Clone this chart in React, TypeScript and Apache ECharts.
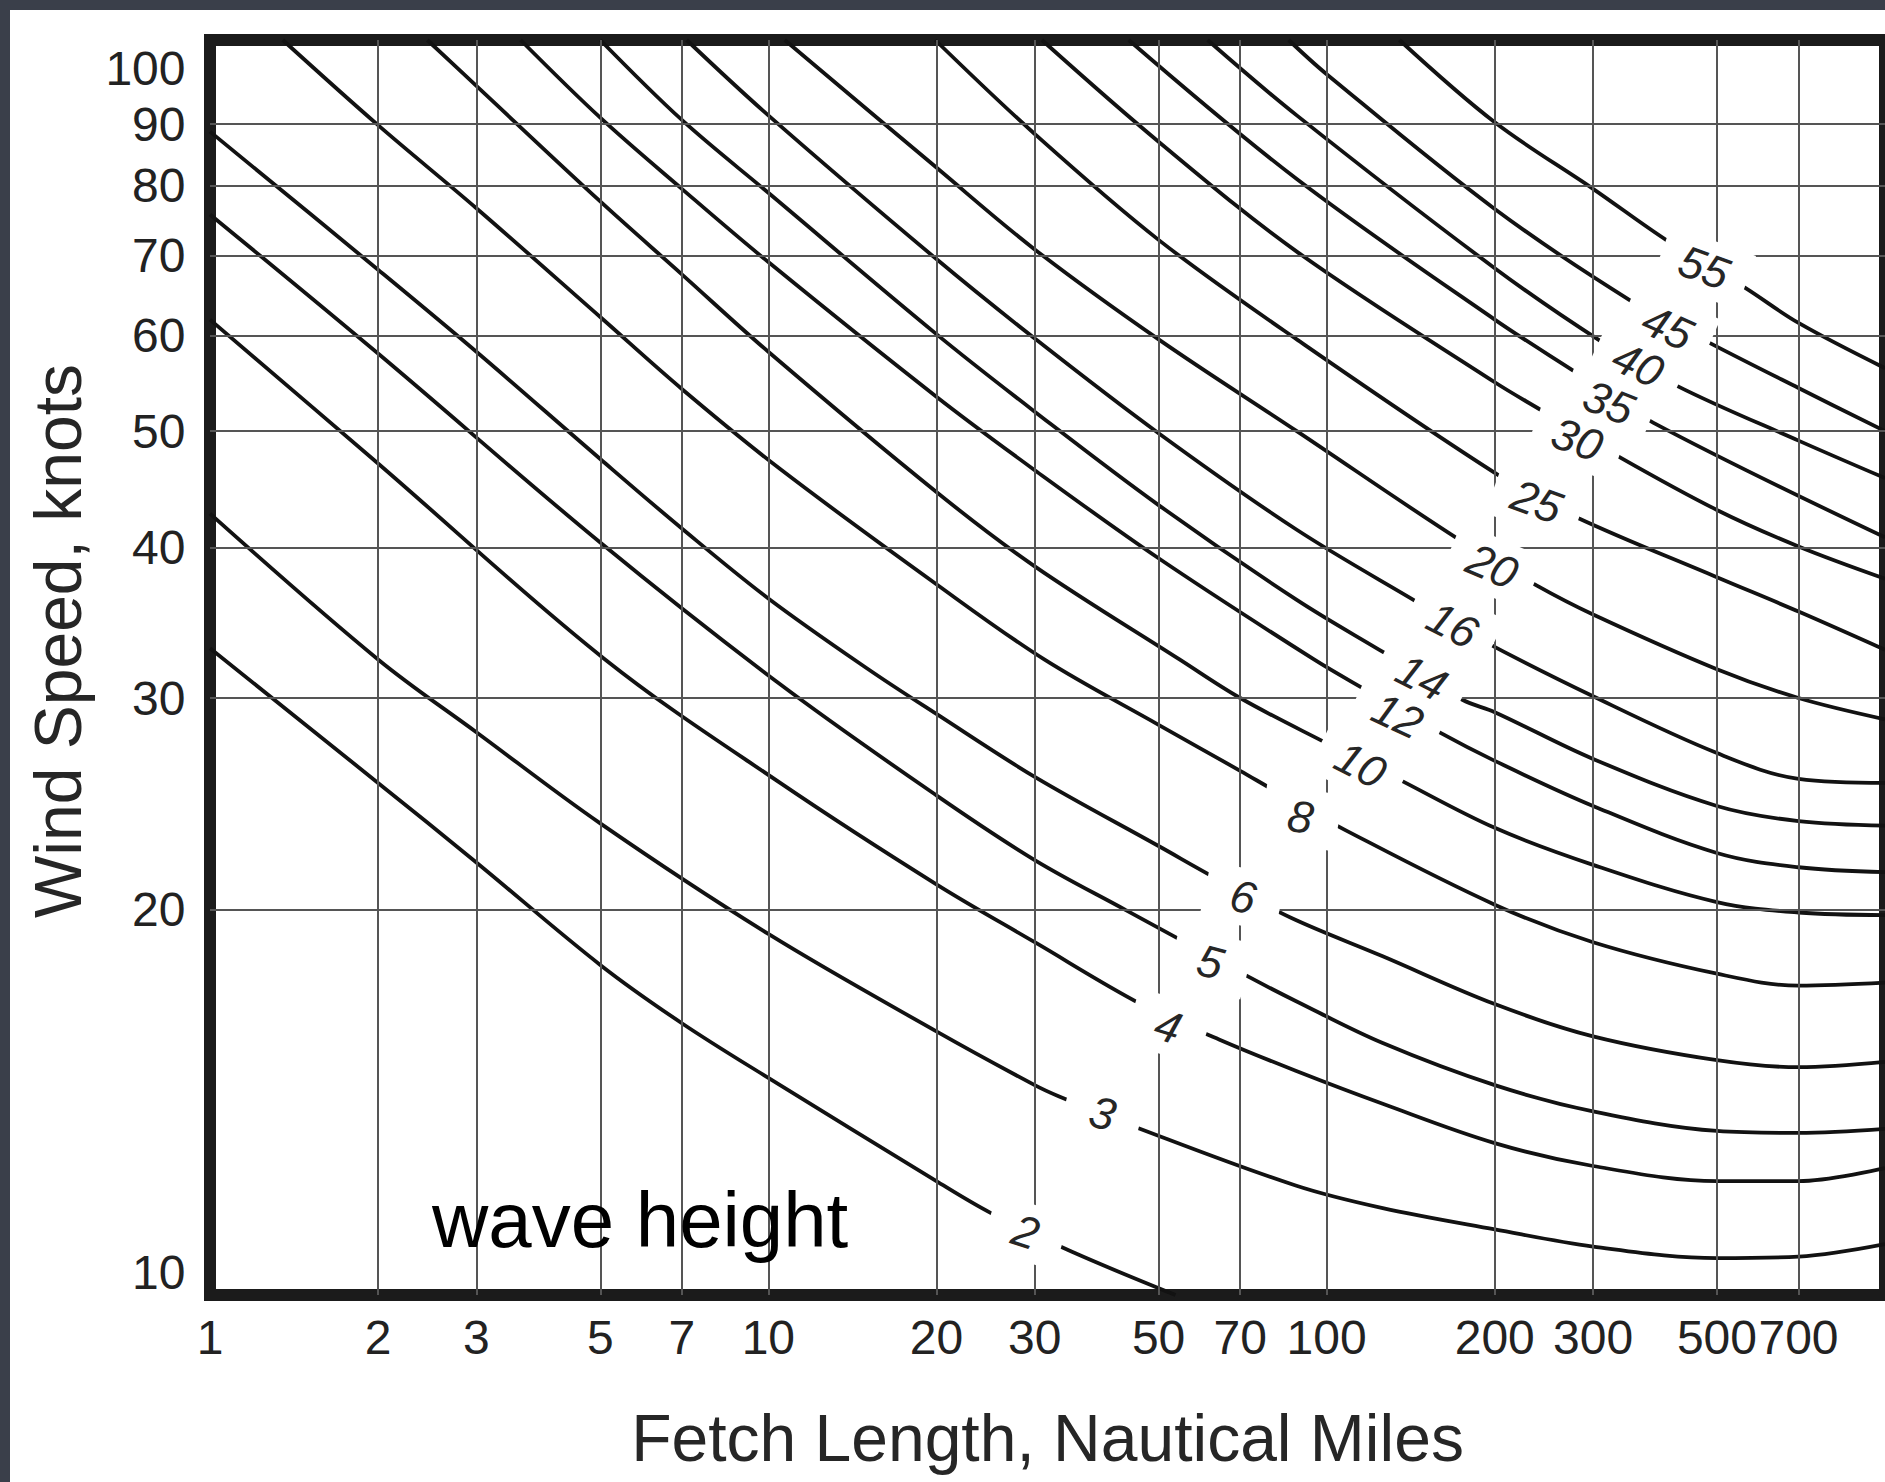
import React, { useEffect, useRef } from "react";
import * as echarts from "echarts";

// ---- axis values ----
const FETCH_MIN = 1;
const FETCH_MAX = 1000;
const SPEED_MIN = 9.57;
const SPEED_MAX = 105.7;
const FETCH_TICKS = [1, 2, 3, 5, 7, 10, 20, 30, 50, 70, 100, 200, 300, 500, 700];
const SPEED_TICKS = [10, 20, 30, 40, 50, 60, 70, 80, 90, 100];
const FETCH_GRID = [2, 3, 5, 7, 10, 20, 30, 50, 70, 100, 200, 300, 500, 700];
const SPEED_GRID = [20, 30, 40, 50, 60, 70, 80, 90];

// ---- wave-height curves: [fetch (nmi), wind speed (knots)] ----
const h2 = [[1, 33.0], [2, 25.5], [3, 21.9], [5, 18.0], [7, 16.1], [10, 14.5], [20, 11.9], [25, 11.2], [34.9, 10.4], [53.6, 9.57]];
const h3 = [[1, 42.7], [2, 32.3], [3, 28.1], [5, 23.6], [10, 19.1], [20, 15.85], [30, 14.3], [33.1, 14.0], [45.4, 13.2], [88, 11.8], [126, 11.3], [200, 10.85], [300, 10.5], [500, 10.27], [700, 10.3], [1000, 10.55]];
const h4 = [[1, 61.9], [2, 47.0], [5.1, 32.3], [10.5, 25.5], [20, 21.0], [30, 18.8], [46.5, 16.7], [64.3, 15.6], [88, 14.7], [126, 13.8], [200, 12.8], [300, 12.25], [500, 11.9], [700, 11.9], [1000, 12.2]];
const h5 = [[1, 75.7], [2, 58.0], [5, 40.4], [10.5, 30.8], [20, 24.9], [30, 22.0], [43.6, 20.0], [52.3, 19.1], [72.4, 17.6], [88, 16.8], [126, 15.5], [200, 14.3], [300, 13.6], [500, 13.1], [700, 13.05], [1000, 13.15]];
const h6 = [[1, 88.7], [2, 68.1], [3, 58.2], [5, 47.4], [7, 41.5], [10, 36.3], [15.1, 31.7], [20, 29.1], [30, 25.8], [50, 22.6], [63.9, 21.2], [86.3, 19.7], [126, 18.3], [200, 16.7], [300, 15.7], [500, 15.0], [700, 14.8], [1000, 14.95]];
const h8 = [[1.35, 105.7], [2, 89.8], [3, 76.6], [5, 62.2], [7, 54.2], [10.5, 46.5], [20, 37.3], [31.2, 32.3], [50, 28.5], [70, 26.1], [81, 25.1], [108, 23.3], [200, 20.2], [300, 18.8], [500, 17.7], [700, 17.3], [1000, 17.4]];
const h10 = [[2.45, 105.7], [3, 96.8], [5, 77.6], [7, 67.5], [10, 58.2], [20, 44.5], [30, 38.6], [54.5, 32.3], [70, 30.0], [98.7, 27.6], [132, 25.8], [200, 23.4], [300, 21.8], [500, 20.3], [700, 19.9], [1000, 19.8]];
const h12 = [[3.6, 105.7], [5, 91.1], [7, 79.5], [10, 69.1], [20, 53.4], [30, 46.4], [50, 39.2], [94.9, 32.3], [118.5, 30.4], [159, 28.1], [200, 26.6], [300, 24.4], [500, 22.3], [700, 21.7], [1000, 21.5]];
const h14 = [[5.0, 105.7], [7, 90.7], [10, 78.9], [20, 60.2], [30, 51.9], [50, 43.4], [88.4, 36.2], [127, 32.7], [175, 29.9], [200, 29.2], [300, 26.7], [500, 24.4], [700, 23.7], [1000, 23.5]];
const h16 = [[7.14, 105.7], [10, 91.5], [20, 69.5], [30, 59.7], [50, 49.8], [88.4, 41.4], [146, 36.0], [190, 33.5], [300, 30.1], [500, 27.0], [700, 25.7], [1000, 25.5]];
const h20 = [[10.7, 105.7], [20, 82.8], [30, 70.8], [50, 59.6], [88.4, 50.0], [173, 40.6], [238, 37.2], [300, 35.2], [500, 31.7], [700, 30.0], [1000, 28.8]];
const h25 = [[19.9, 105.7], [30, 88.3], [50, 72.1], [88.4, 59.6], [204, 45.9], [280, 42.4], [500, 37.8], [700, 35.4], [1000, 32.9]];
const h30 = [[30.9, 105.7], [50, 87.0], [88.4, 70.5], [200, 54.9], [243, 52.0], [334, 47.6], [500, 43.0], [700, 40.1], [1000, 37.7]];
const h35 = [[44.2, 105.7], [88.4, 81.0], [200, 61.9], [282, 55.8], [385, 50.8], [1000, 40.8]];
const h40 = [[61.2, 105.7], [88.4, 91.5], [200, 68.3], [309.5, 59.4], [425, 54.5], [700, 49.1], [1000, 45.7]];
const h45 = [[85.5, 105.7], [100, 99.0], [200, 76.5], [350, 64.2], [485, 59.2], [700, 54.3], [1000, 50.0]];
const h55 = [[135, 105.7], [200, 90.3], [300, 79.5], [409, 71.9], [561, 65.8], [700, 61.5], [1000, 56.4]];

const HEIGHTS = ["2", "3", "4", "5", "6", "8", "10", "12", "14", "16", "20", "25", "30", "35", "40", "45", "55"];
const CURVES = [h2, h3, h4, h5, h6, h8, h10, h12, h14, h16, h20, h25, h30, h35, h40, h45, h55];
// where each curve's height label sits
const LABEL_POS = [
  [28.9, 10.8], [39.7, 13.55], [52, 16.0], [61.9, 18.1], [70.8, 20.5], [89.8, 23.9],
  [115, 26.4], [134, 29.0], [148, 31.2], [168, 34.5], [198, 38.6], [238, 43.7],
  [281, 49.2], [320, 52.8], [361, 56.8], [408, 61.0], [474, 68.4],
];
// style: label rotation (deg)
const LABEL_ROT = [-18, -15, -18, -15, -12, -10, -27, -25, -27, -27, -23, -20, -20, -22, -25, -24, -20];

const FONT = '"Liberation Sans", Arial, Helvetica, sans-serif';

export default function App() {
  const ref = useRef<HTMLDivElement>(null);

  useEffect(() => {
    if (!ref.current) return;
    const chart = echarts.init(ref.current, undefined, { renderer: "svg" });

    const curveSeries = CURVES.map((data, i) => ({
      type: "line",
      name: HEIGHTS[i],
      data,
      smooth: 0.35,
      showSymbol: false,
      silent: true,
      z: 2,
      lineStyle: { color: "#121212", width: 3.8 },
    }));

    const hiddenSymbol = {
      symbolSize: 1,
      itemStyle: { color: "rgba(0,0,0,0)", opacity: 1 },
      emphasis: { disabled: true },
    };

    const option: any = {
      animation: false,
      backgroundColor: "#ffffff",
      grid: {
        left: 200,
        top: 30,
        width: 1676,
        height: 1255,
        show: true,
        borderColor: "#1b1b1b",
        borderWidth: 12,
        backgroundColor: "#ffffff",
      },
      xAxis: {
        type: "log",
        logBase: 10,
        min: FETCH_MIN,
        max: FETCH_MAX,
        axisLine: { show: false },
        axisTick: { show: false },
        axisLabel: { show: false },
        splitLine: { show: false },
        name: "Fetch Length, Nautical Miles",
        nameLocation: "middle",
        nameGap: 110,
        nameTextStyle: { fontSize: 66, color: "#262626", fontFamily: FONT },
      },
      yAxis: {
        type: "log",
        logBase: 10,
        min: SPEED_MIN,
        max: SPEED_MAX,
        axisLine: { show: false },
        axisTick: { show: false },
        axisLabel: { show: false },
        splitLine: { show: false },
      },
      graphic: [
        {
          type: "text",
          x: 48,
          y: 631,
          rotation: Math.PI / 2,
          style: {
            text: "Wind Speed, knots",
            fontSize: 66,
            fontFamily: FONT,
            fill: "#262626",
            align: "center",
            verticalAlign: "middle",
          },
        },
        {
          type: "text",
          x: 422,
          y: 1210,
          z: 20,
          style: {
            text: "wave height",
            fontSize: 78,
            fontFamily: FONT,
            fill: "#000000",
            align: "left",
            verticalAlign: "middle",
          },
        },
      ],
      series: [
        {
          type: "line",
          name: "grid",
          data: [[FETCH_MIN, SPEED_MIN]],
          showSymbol: false,
          silent: true,
          z: 1,
          markLine: {
            silent: true,
            symbol: ["none", "none"],
            label: { show: false },
            lineStyle: { color: "#555555", width: 2, type: "solid" },
            data: [
              ...FETCH_GRID.map((v) => ({ xAxis: v })),
              ...SPEED_GRID.map((v) => ({ yAxis: v })),
            ],
          },
        },
        ...curveSeries,
        {
          type: "scatter",
          name: "heightLabels",
          silent: true,
          clip: false,
          z: 5,
          ...hiddenSymbol,
          data: LABEL_POS.map((p, i) => ({
            value: p,
            name: HEIGHTS[i],
            label: {
              rotate: LABEL_ROT[i],
              padding: HEIGHTS[i].length === 1 ? [6, 26] : [6, 20],
            },
          })),
          label: {
            show: true,
            position: "inside",
            formatter: "{b}",
            fontSize: 45,
            fontStyle: "italic",
            fontFamily: FONT,
            color: "#262626",
            backgroundColor: "#ffffff",
          },
        },
        {
          type: "scatter",
          name: "xTicks",
          silent: true,
          clip: false,
          z: 6,
          ...hiddenSymbol,
          data: FETCH_TICKS.map((v) => [v, SPEED_MIN]),
          label: {
            show: true,
            position: "bottom",
            distance: 18,
            formatter: (p: any) => String(p.value[0]),
            fontSize: 48,
            fontFamily: FONT,
            color: "#222222",
          },
        },
        {
          type: "scatter",
          name: "yTicks",
          silent: true,
          clip: false,
          z: 6,
          ...hiddenSymbol,
          data: SPEED_TICKS.map((v) => [FETCH_MIN, v]),
          label: {
            show: true,
            position: "left",
            distance: 24,
            formatter: (p: any) => String(p.value[1]),
            fontSize: 48,
            fontFamily: FONT,
            color: "#222222",
          },
        },
      ],
    };

    chart.setOption(option);
    return () => chart.dispose();
  }, []);

  return (
    <div
      style={{
        position: "fixed",
        left: 0,
        top: 0,
        width: 1885,
        height: 1482,
        background: "#3a3f4a",
        overflow: "hidden",
      }}
    >
      <div
        ref={ref}
        style={{
          position: "absolute",
          left: 10,
          top: 10,
          width: 1875,
          height: 1472,
          background: "#ffffff",
        }}
      />
    </div>
  );
}
